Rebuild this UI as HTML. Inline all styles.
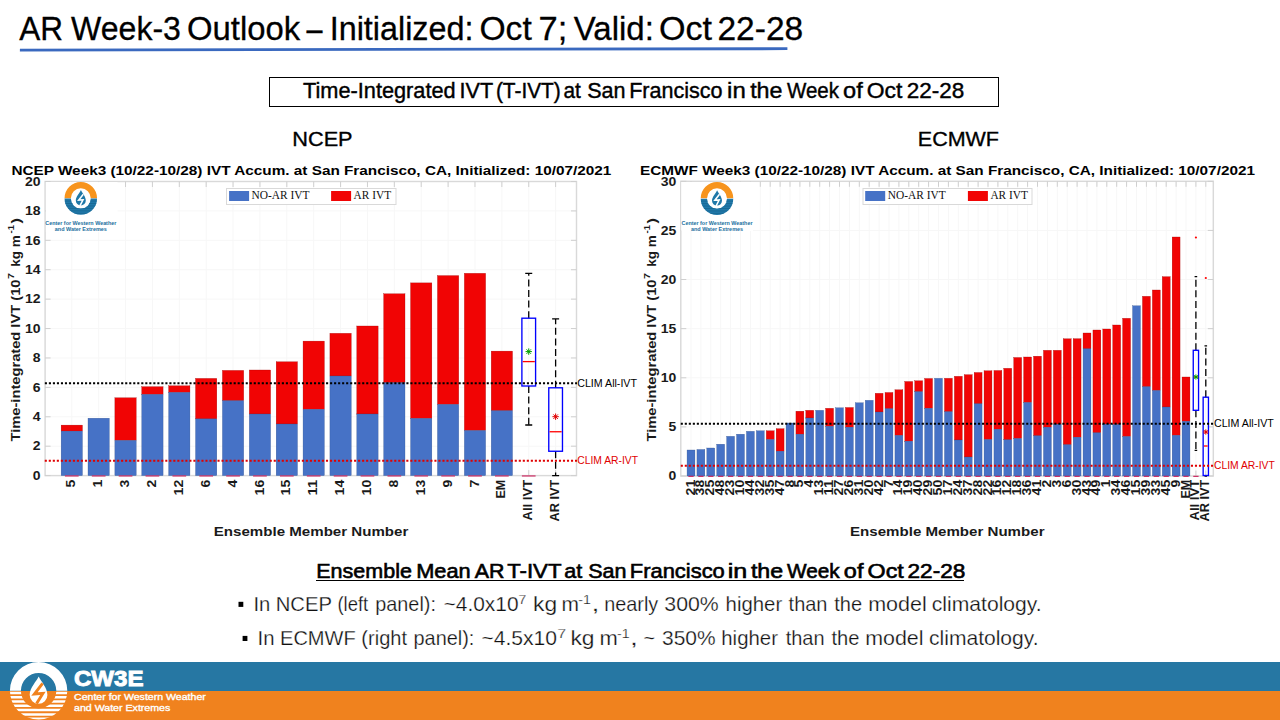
<!DOCTYPE html><html><head><meta charset="utf-8"><title>AR Week-3 Outlook</title><style>html,body{margin:0;padding:0;width:1280px;height:720px;overflow:hidden;background:#fff}svg{display:block}text{font-family:"Liberation Sans",sans-serif}</style></head><body>
<svg width="1280" height="720" viewBox="0 0 1280 720">
<rect width="1280" height="720" fill="#fff"/>
<text x="19.19" y="39.90" font-size="33.50" fill="#000" textLength="43.83" lengthAdjust="spacingAndGlyphs" style='font-family:"Liberation Sans",sans-serif;' stroke="#000" stroke-width="0.3">AR</text>
<text x="71.11" y="39.90" font-size="33.50" fill="#000" textLength="109.84" lengthAdjust="spacingAndGlyphs" style='font-family:"Liberation Sans",sans-serif;' stroke="#000" stroke-width="0.3">Week-3</text>
<text x="186.99" y="39.90" font-size="33.50" fill="#000" textLength="113.21" lengthAdjust="spacingAndGlyphs" style='font-family:"Liberation Sans",sans-serif;' stroke="#000" stroke-width="0.3">Outlook</text>
<text x="306.45" y="39.90" font-size="33.50" fill="#000" textLength="16.01" lengthAdjust="spacingAndGlyphs" style='font-family:"Liberation Sans",sans-serif;' stroke="#000" stroke-width="0.3">–</text>
<text x="329.66" y="39.90" font-size="33.50" fill="#000" textLength="143.84" lengthAdjust="spacingAndGlyphs" style='font-family:"Liberation Sans",sans-serif;' stroke="#000" stroke-width="0.3">Initialized:</text>
<text x="479.46" y="39.90" font-size="33.50" fill="#000" textLength="52.34" lengthAdjust="spacingAndGlyphs" style='font-family:"Liberation Sans",sans-serif;' stroke="#000" stroke-width="0.3">Oct</text>
<text x="538.58" y="39.90" font-size="33.50" fill="#000" textLength="28.77" lengthAdjust="spacingAndGlyphs" style='font-family:"Liberation Sans",sans-serif;' stroke="#000" stroke-width="0.3">7;</text>
<text x="573.76" y="39.90" font-size="33.50" fill="#000" textLength="80.12" lengthAdjust="spacingAndGlyphs" style='font-family:"Liberation Sans",sans-serif;' stroke="#000" stroke-width="0.3">Valid:</text>
<text x="659.03" y="39.90" font-size="33.50" fill="#000" textLength="53.07" lengthAdjust="spacingAndGlyphs" style='font-family:"Liberation Sans",sans-serif;' stroke="#000" stroke-width="0.3">Oct</text>
<text x="717.46" y="39.90" font-size="33.50" fill="#000" textLength="85.74" lengthAdjust="spacingAndGlyphs" style='font-family:"Liberation Sans",sans-serif;' stroke="#000" stroke-width="0.3">22-28</text>
<path d="M19.9 50.1L787.4 48.7" stroke="#3A69BF" stroke-width="2.8"/>
<rect x="269.5" y="77.5" width="729" height="29" fill="none" stroke="#000" stroke-width="1"/>
<text x="303.01" y="98.10" font-size="21.60" fill="#000" textLength="152.68" lengthAdjust="spacingAndGlyphs" style='font-family:"Liberation Sans",sans-serif;' stroke="#000" stroke-width="0.4">Time-Integrated</text>
<text x="459.61" y="98.10" font-size="21.60" fill="#000" textLength="33.59" lengthAdjust="spacingAndGlyphs" style='font-family:"Liberation Sans",sans-serif;' stroke="#000" stroke-width="0.4">IVT</text>
<text x="495.93" y="98.10" font-size="21.60" fill="#000" textLength="64.84" lengthAdjust="spacingAndGlyphs" style='font-family:"Liberation Sans",sans-serif;' stroke="#000" stroke-width="0.4">(T-IVT)</text>
<text x="563.42" y="98.10" font-size="21.60" fill="#000" textLength="17.34" lengthAdjust="spacingAndGlyphs" style='font-family:"Liberation Sans",sans-serif;' stroke="#000" stroke-width="0.4">at</text>
<text x="587.22" y="98.10" font-size="21.60" fill="#000" textLength="38.38" lengthAdjust="spacingAndGlyphs" style='font-family:"Liberation Sans",sans-serif;' stroke="#000" stroke-width="0.4">San</text>
<text x="629.13" y="98.10" font-size="21.60" fill="#000" textLength="93.47" lengthAdjust="spacingAndGlyphs" style='font-family:"Liberation Sans",sans-serif;' stroke="#000" stroke-width="0.4">Francisco</text>
<text x="727.10" y="98.10" font-size="21.60" fill="#000" textLength="18.66" lengthAdjust="spacingAndGlyphs" style='font-family:"Liberation Sans",sans-serif;' stroke="#000" stroke-width="0.4">in</text>
<text x="750.15" y="98.10" font-size="21.60" fill="#000" textLength="32.39" lengthAdjust="spacingAndGlyphs" style='font-family:"Liberation Sans",sans-serif;' stroke="#000" stroke-width="0.4">the</text>
<text x="786.91" y="98.10" font-size="21.60" fill="#000" textLength="52.06" lengthAdjust="spacingAndGlyphs" style='font-family:"Liberation Sans",sans-serif;' stroke="#000" stroke-width="0.4">Week</text>
<text x="843.11" y="98.10" font-size="21.60" fill="#000" textLength="19.66" lengthAdjust="spacingAndGlyphs" style='font-family:"Liberation Sans",sans-serif;' stroke="#000" stroke-width="0.4">of</text>
<text x="866.72" y="98.10" font-size="21.60" fill="#000" textLength="35.55" lengthAdjust="spacingAndGlyphs" style='font-family:"Liberation Sans",sans-serif;' stroke="#000" stroke-width="0.4">Oct</text>
<text x="906.77" y="98.10" font-size="21.60" fill="#000" textLength="57.61" lengthAdjust="spacingAndGlyphs" style='font-family:"Liberation Sans",sans-serif;' stroke="#000" stroke-width="0.4">22-28</text>
<text x="292.30" y="145.60" font-size="20.90" fill="#000" textLength="60.30" lengthAdjust="spacingAndGlyphs" style='font-family:"Liberation Sans",sans-serif;' stroke="#000" stroke-width="0.35">NCEP</text>
<text x="917.80" y="145.60" font-size="20.90" fill="#000" textLength="81.20" lengthAdjust="spacingAndGlyphs" style='font-family:"Liberation Sans",sans-serif;' stroke="#000" stroke-width="0.35">ECMWF</text>
<path d="M45.10 446.19H576.50M45.10 416.78H576.50M45.10 387.37H576.50M45.10 357.96H576.50M45.10 328.55H576.50M45.10 299.14H576.50M45.10 269.73H576.50M45.10 240.32H576.50M45.10 210.91H576.50M71.78 181.50V475.60M98.66 181.50V475.60M125.54 181.50V475.60M152.42 181.50V475.60M179.30 181.50V475.60M206.18 181.50V475.60M233.06 181.50V475.60M259.94 181.50V475.60M286.82 181.50V475.60M313.70 181.50V475.60M340.58 181.50V475.60M367.46 181.50V475.60M394.34 181.50V475.60M421.22 181.50V475.60M448.10 181.50V475.60M474.98 181.50V475.60M501.86 181.50V475.60M528.74 181.50V475.60M555.62 181.50V475.60" stroke="#F7F7F7" stroke-width="1" fill="none"/>
<rect x="45.10" y="181.50" width="531.40" height="294.10" fill="none" stroke="#D9D9D9" stroke-width="1.45"/>
<path d="M45.10 475.60h5.5M576.50 475.60h-5.5M45.10 446.19h5.5M576.50 446.19h-5.5M45.10 416.78h5.5M576.50 416.78h-5.5M45.10 387.37h5.5M576.50 387.37h-5.5M45.10 357.96h5.5M576.50 357.96h-5.5M45.10 328.55h5.5M576.50 328.55h-5.5M45.10 299.14h5.5M576.50 299.14h-5.5M45.10 269.73h5.5M576.50 269.73h-5.5M45.10 240.32h5.5M576.50 240.32h-5.5M45.10 210.91h5.5M576.50 210.91h-5.5M45.10 181.50h5.5M576.50 181.50h-5.5M71.78 475.60v-5.5M71.78 181.50v5.5M98.66 475.60v-5.5M98.66 181.50v5.5M125.54 475.60v-5.5M125.54 181.50v5.5M152.42 475.60v-5.5M152.42 181.50v5.5M179.30 475.60v-5.5M179.30 181.50v5.5M206.18 475.60v-5.5M206.18 181.50v5.5M233.06 475.60v-5.5M233.06 181.50v5.5M259.94 475.60v-5.5M259.94 181.50v5.5M286.82 475.60v-5.5M286.82 181.50v5.5M313.70 475.60v-5.5M313.70 181.50v5.5M340.58 475.60v-5.5M340.58 181.50v5.5M367.46 475.60v-5.5M367.46 181.50v5.5M394.34 475.60v-5.5M394.34 181.50v5.5M421.22 475.60v-5.5M421.22 181.50v5.5M448.10 475.60v-5.5M448.10 181.50v5.5M474.98 475.60v-5.5M474.98 181.50v5.5M501.86 475.60v-5.5M501.86 181.50v5.5M528.74 475.60v-5.5M528.74 181.50v5.5M555.62 475.60v-5.5M555.62 181.50v5.5" stroke="#CFCFCF" stroke-width="1" fill="none"/>
<rect x="45.9" y="182.1" width="71.6" height="49.900000000000006" fill="#fff"/>
<g>
<path d="M64.55 198.20A16.25 16.25 0 0 1 97.05 198.20H90.75A9.95 9.95 0 0 0 70.85 198.20Z" fill="#F7941D"/>
<path d="M64.55 198.60A16.25 16.25 0 0 0 97.05 198.60H90.75A9.95 9.95 0 0 1 70.85 198.60Z" fill="#2179AA"/>
<clipPath id="lc80"><path d="M64.55 198.60A16.25 16.25 0 0 0 97.05 198.60H90.75A9.95 9.95 0 0 1 70.85 198.60Z"/></clipPath>
<path d="M64.55 201.05H97.05M64.55 203.50H97.05M64.55 205.95H97.05M64.55 208.40H97.05M64.55 210.85H97.05M64.55 213.30H97.05" stroke="#176690" stroke-width="0.8" clip-path="url(#lc80)"/>
<path d="M80.90 190.10C82.40 193.70 85.80 196.60 85.80 200.50A5.0 5.0 0 0 1 75.80 200.50C75.80 196.60 79.60 193.70 80.90 190.10Z" fill="#1F78A8"/>
<path d="M83.30 194.20L78.70 200.10L83.00 199.80L79.90 205.90" stroke="#fff" stroke-width="1.55" fill="none" stroke-linejoin="miter"/>
</g>
<text x="80.80" y="225.20" font-size="6.00" fill="#22709E" font-weight="bold" text-anchor="middle" textLength="71.00" lengthAdjust="spacingAndGlyphs" style='font-family:"Liberation Sans",sans-serif;' >Center for Western Weather</text>
<text x="80.80" y="231.00" font-size="6.00" fill="#22709E" font-weight="bold" text-anchor="middle" textLength="52.00" lengthAdjust="spacingAndGlyphs" style='font-family:"Liberation Sans",sans-serif;' >and Water Extremes</text>
<rect x="226.50" y="188.50" width="169.50" height="16.00" fill="#fff" stroke="#D9D9D9" stroke-width="1"/>
<rect x="229.10" y="191.00" width="20" height="10" fill="#4672C6"/>
<rect x="331.10" y="191.00" width="20" height="10" fill="#F10404"/>
<text x="251.60" y="199.20" font-size="11.60" fill="#111" textLength="58.00" lengthAdjust="spacingAndGlyphs" style='font-family:"Liberation Serif",serif;' >NO-AR IVT</text>
<text x="353.60" y="199.20" font-size="11.60" fill="#111" textLength="37.50" lengthAdjust="spacingAndGlyphs" style='font-family:"Liberation Serif",serif;' >AR IVT</text>
<rect x="61.13" y="425.10" width="21.30" height="6.00" fill="#F10404" stroke="#A00000" stroke-width="0.3"/><rect x="61.13" y="431.10" width="21.30" height="44.50" fill="#4672C6" stroke="#2F4F8A" stroke-width="0.3"/><rect x="64.93" y="475.35" width="13.70" height="1.2" fill="#CC2A62"/><rect x="88.01" y="418.20" width="21.30" height="57.40" fill="#4672C6" stroke="#2F4F8A" stroke-width="0.3"/><rect x="91.81" y="475.35" width="13.70" height="1.2" fill="#CC2A62"/><rect x="114.89" y="397.80" width="21.30" height="42.60" fill="#F10404" stroke="#A00000" stroke-width="0.3"/><rect x="114.89" y="440.40" width="21.30" height="35.20" fill="#4672C6" stroke="#2F4F8A" stroke-width="0.3"/><rect x="118.69" y="475.35" width="13.70" height="1.2" fill="#CC2A62"/><rect x="141.77" y="386.70" width="21.30" height="7.70" fill="#F10404" stroke="#A00000" stroke-width="0.3"/><rect x="141.77" y="394.40" width="21.30" height="81.20" fill="#4672C6" stroke="#2F4F8A" stroke-width="0.3"/><rect x="145.57" y="475.35" width="13.70" height="1.2" fill="#CC2A62"/><rect x="168.65" y="385.80" width="21.30" height="6.60" fill="#F10404" stroke="#A00000" stroke-width="0.3"/><rect x="168.65" y="392.40" width="21.30" height="83.20" fill="#4672C6" stroke="#2F4F8A" stroke-width="0.3"/><rect x="172.45" y="475.35" width="13.70" height="1.2" fill="#CC2A62"/><rect x="195.53" y="378.40" width="21.30" height="40.50" fill="#F10404" stroke="#A00000" stroke-width="0.3"/><rect x="195.53" y="418.90" width="21.30" height="56.70" fill="#4672C6" stroke="#2F4F8A" stroke-width="0.3"/><rect x="199.33" y="475.35" width="13.70" height="1.2" fill="#CC2A62"/><rect x="222.41" y="370.40" width="21.30" height="30.30" fill="#F10404" stroke="#A00000" stroke-width="0.3"/><rect x="222.41" y="400.70" width="21.30" height="74.90" fill="#4672C6" stroke="#2F4F8A" stroke-width="0.3"/><rect x="226.21" y="475.35" width="13.70" height="1.2" fill="#CC2A62"/><rect x="249.29" y="370.00" width="21.30" height="44.00" fill="#F10404" stroke="#A00000" stroke-width="0.3"/><rect x="249.29" y="414.00" width="21.30" height="61.60" fill="#4672C6" stroke="#2F4F8A" stroke-width="0.3"/><rect x="253.09" y="475.35" width="13.70" height="1.2" fill="#CC2A62"/><rect x="276.17" y="361.80" width="21.30" height="62.20" fill="#F10404" stroke="#A00000" stroke-width="0.3"/><rect x="276.17" y="424.00" width="21.30" height="51.60" fill="#4672C6" stroke="#2F4F8A" stroke-width="0.3"/><rect x="279.97" y="475.35" width="13.70" height="1.2" fill="#CC2A62"/><rect x="303.05" y="341.10" width="21.30" height="68.20" fill="#F10404" stroke="#A00000" stroke-width="0.3"/><rect x="303.05" y="409.30" width="21.30" height="66.30" fill="#4672C6" stroke="#2F4F8A" stroke-width="0.3"/><rect x="306.85" y="475.35" width="13.70" height="1.2" fill="#CC2A62"/><rect x="329.93" y="333.30" width="21.30" height="42.70" fill="#F10404" stroke="#A00000" stroke-width="0.3"/><rect x="329.93" y="376.00" width="21.30" height="99.60" fill="#4672C6" stroke="#2F4F8A" stroke-width="0.3"/><rect x="333.73" y="475.35" width="13.70" height="1.2" fill="#CC2A62"/><rect x="356.81" y="326.00" width="21.30" height="88.00" fill="#F10404" stroke="#A00000" stroke-width="0.3"/><rect x="356.81" y="414.00" width="21.30" height="61.60" fill="#4672C6" stroke="#2F4F8A" stroke-width="0.3"/><rect x="360.61" y="475.35" width="13.70" height="1.2" fill="#CC2A62"/><rect x="383.69" y="293.80" width="21.30" height="88.90" fill="#F10404" stroke="#A00000" stroke-width="0.3"/><rect x="383.69" y="382.70" width="21.30" height="92.90" fill="#4672C6" stroke="#2F4F8A" stroke-width="0.3"/><rect x="387.49" y="475.35" width="13.70" height="1.2" fill="#CC2A62"/><rect x="410.57" y="282.90" width="21.30" height="135.50" fill="#F10404" stroke="#A00000" stroke-width="0.3"/><rect x="410.57" y="418.40" width="21.30" height="57.20" fill="#4672C6" stroke="#2F4F8A" stroke-width="0.3"/><rect x="414.37" y="475.35" width="13.70" height="1.2" fill="#CC2A62"/><rect x="437.45" y="275.60" width="21.30" height="128.80" fill="#F10404" stroke="#A00000" stroke-width="0.3"/><rect x="437.45" y="404.40" width="21.30" height="71.20" fill="#4672C6" stroke="#2F4F8A" stroke-width="0.3"/><rect x="441.25" y="475.35" width="13.70" height="1.2" fill="#CC2A62"/><rect x="464.33" y="273.30" width="21.30" height="157.20" fill="#F10404" stroke="#A00000" stroke-width="0.3"/><rect x="464.33" y="430.50" width="21.30" height="45.10" fill="#4672C6" stroke="#2F4F8A" stroke-width="0.3"/><rect x="468.13" y="475.35" width="13.70" height="1.2" fill="#CC2A62"/><rect x="491.21" y="351.10" width="21.30" height="59.60" fill="#F10404" stroke="#A00000" stroke-width="0.3"/><rect x="491.21" y="410.70" width="21.30" height="64.90" fill="#4672C6" stroke="#2F4F8A" stroke-width="0.3"/><rect x="495.01" y="475.35" width="13.70" height="1.2" fill="#CC2A62"/><rect x="521.89" y="475.35" width="13.70" height="1.2" fill="#CC2A62"/>
<path d="M528.74 318.20V273.30M528.74 386.00V425.00" stroke="#000" stroke-width="1.3" stroke-dasharray="7 3.6" fill="none"/>
<path d="M525.24 273.30H532.24M525.24 425.00H532.24" stroke="#000" stroke-width="1.3" fill="none"/>
<rect x="521.89" y="318.20" width="13.70" height="67.80" fill="none" stroke="#0000FF" stroke-width="1.35"/>
<path d="M522.69 361.60H534.79" stroke="#FF0000" stroke-width="1.3"/>
<path d="M525.54 351.60H531.94M528.74 348.40V354.80M526.50 349.36L530.98 353.84M526.50 353.84L530.98 349.36" stroke="#00A000" stroke-width="1"/>
<path d="M555.62 387.80V318.90M555.62 451.25V475.60" stroke="#000" stroke-width="1.3" stroke-dasharray="7 3.6" fill="none"/>
<path d="M552.12 318.90H559.12M552.12 475.60H559.12" stroke="#000" stroke-width="1.3" fill="none"/>
<rect x="548.77" y="387.80" width="13.70" height="63.45" fill="none" stroke="#0000FF" stroke-width="1.35"/>
<path d="M549.57 431.75H561.67" stroke="#FF0000" stroke-width="1.3"/>
<path d="M552.42 416.70H558.82M555.62 413.50V419.90M553.38 414.46L557.86 418.94M553.38 418.94L557.86 414.46" stroke="#E00000" stroke-width="1"/>
<path d="M44.85 383.30H577.00" stroke="#000" stroke-width="2.1" stroke-dasharray="2.1 1.917"/>
<path d="M44.75 460.70H577.00" stroke="#E00000" stroke-width="2.1" stroke-dasharray="2.1 1.917"/>
<text x="577.20" y="386.90" font-size="10.70" fill="#000" textLength="59.81" lengthAdjust="spacingAndGlyphs" style='font-family:"Liberation Sans",sans-serif;' >CLIM All-IVT</text>
<text x="577.20" y="464.30" font-size="10.70" fill="#E00000" textLength="60.80" lengthAdjust="spacingAndGlyphs" style='font-family:"Liberation Sans",sans-serif;' >CLIM AR-IVT</text>
<text x="40.60" y="479.88" font-size="11.87" fill="#1a1a1a" font-weight="bold" text-anchor="end" textLength="7.79" lengthAdjust="spacingAndGlyphs" style='font-family:"Liberation Sans",sans-serif;' >0</text>
<text x="40.60" y="450.47" font-size="11.87" fill="#1a1a1a" font-weight="bold" text-anchor="end" textLength="7.79" lengthAdjust="spacingAndGlyphs" style='font-family:"Liberation Sans",sans-serif;' >2</text>
<text x="40.60" y="421.06" font-size="11.87" fill="#1a1a1a" font-weight="bold" text-anchor="end" textLength="7.79" lengthAdjust="spacingAndGlyphs" style='font-family:"Liberation Sans",sans-serif;' >4</text>
<text x="40.60" y="391.65" font-size="11.87" fill="#1a1a1a" font-weight="bold" text-anchor="end" textLength="7.79" lengthAdjust="spacingAndGlyphs" style='font-family:"Liberation Sans",sans-serif;' >6</text>
<text x="40.60" y="362.24" font-size="11.87" fill="#1a1a1a" font-weight="bold" text-anchor="end" textLength="7.79" lengthAdjust="spacingAndGlyphs" style='font-family:"Liberation Sans",sans-serif;' >8</text>
<text x="40.60" y="332.83" font-size="11.87" fill="#1a1a1a" font-weight="bold" text-anchor="end" textLength="15.59" lengthAdjust="spacingAndGlyphs" style='font-family:"Liberation Sans",sans-serif;' >10</text>
<text x="40.60" y="303.42" font-size="11.87" fill="#1a1a1a" font-weight="bold" text-anchor="end" textLength="15.59" lengthAdjust="spacingAndGlyphs" style='font-family:"Liberation Sans",sans-serif;' >12</text>
<text x="40.60" y="274.01" font-size="11.87" fill="#1a1a1a" font-weight="bold" text-anchor="end" textLength="15.59" lengthAdjust="spacingAndGlyphs" style='font-family:"Liberation Sans",sans-serif;' >14</text>
<text x="40.60" y="244.60" font-size="11.87" fill="#1a1a1a" font-weight="bold" text-anchor="end" textLength="15.59" lengthAdjust="spacingAndGlyphs" style='font-family:"Liberation Sans",sans-serif;' >16</text>
<text x="40.60" y="215.19" font-size="11.87" fill="#1a1a1a" font-weight="bold" text-anchor="end" textLength="15.59" lengthAdjust="spacingAndGlyphs" style='font-family:"Liberation Sans",sans-serif;' >18</text>
<text x="40.60" y="185.78" font-size="11.87" fill="#1a1a1a" font-weight="bold" text-anchor="end" textLength="15.59" lengthAdjust="spacingAndGlyphs" style='font-family:"Liberation Sans",sans-serif;' >20</text>
<text transform="translate(75.36 479.80) rotate(-90)" font-size="11.87" font-weight="bold" text-anchor="end" textLength="7.79" lengthAdjust="spacingAndGlyphs" fill="#1a1a1a" style='font-family:"Liberation Sans",sans-serif'>5</text>
<text transform="translate(102.24 479.80) rotate(-90)" font-size="11.87" font-weight="bold" text-anchor="end" textLength="7.79" lengthAdjust="spacingAndGlyphs" fill="#1a1a1a" style='font-family:"Liberation Sans",sans-serif'>1</text>
<text transform="translate(129.12 479.80) rotate(-90)" font-size="11.87" font-weight="bold" text-anchor="end" textLength="7.79" lengthAdjust="spacingAndGlyphs" fill="#1a1a1a" style='font-family:"Liberation Sans",sans-serif'>3</text>
<text transform="translate(156.00 479.80) rotate(-90)" font-size="11.87" font-weight="bold" text-anchor="end" textLength="7.79" lengthAdjust="spacingAndGlyphs" fill="#1a1a1a" style='font-family:"Liberation Sans",sans-serif'>2</text>
<text transform="translate(182.88 479.80) rotate(-90)" font-size="11.87" font-weight="bold" text-anchor="end" textLength="15.59" lengthAdjust="spacingAndGlyphs" fill="#1a1a1a" style='font-family:"Liberation Sans",sans-serif'>12</text>
<text transform="translate(209.76 479.80) rotate(-90)" font-size="11.87" font-weight="bold" text-anchor="end" textLength="7.79" lengthAdjust="spacingAndGlyphs" fill="#1a1a1a" style='font-family:"Liberation Sans",sans-serif'>6</text>
<text transform="translate(236.64 479.80) rotate(-90)" font-size="11.87" font-weight="bold" text-anchor="end" textLength="7.79" lengthAdjust="spacingAndGlyphs" fill="#1a1a1a" style='font-family:"Liberation Sans",sans-serif'>4</text>
<text transform="translate(263.52 479.80) rotate(-90)" font-size="11.87" font-weight="bold" text-anchor="end" textLength="15.59" lengthAdjust="spacingAndGlyphs" fill="#1a1a1a" style='font-family:"Liberation Sans",sans-serif'>16</text>
<text transform="translate(290.40 479.80) rotate(-90)" font-size="11.87" font-weight="bold" text-anchor="end" textLength="15.59" lengthAdjust="spacingAndGlyphs" fill="#1a1a1a" style='font-family:"Liberation Sans",sans-serif'>15</text>
<text transform="translate(317.28 479.80) rotate(-90)" font-size="11.87" font-weight="bold" text-anchor="end" textLength="15.59" lengthAdjust="spacingAndGlyphs" fill="#1a1a1a" style='font-family:"Liberation Sans",sans-serif'>11</text>
<text transform="translate(344.16 479.80) rotate(-90)" font-size="11.87" font-weight="bold" text-anchor="end" textLength="15.59" lengthAdjust="spacingAndGlyphs" fill="#1a1a1a" style='font-family:"Liberation Sans",sans-serif'>14</text>
<text transform="translate(371.04 479.80) rotate(-90)" font-size="11.87" font-weight="bold" text-anchor="end" textLength="15.59" lengthAdjust="spacingAndGlyphs" fill="#1a1a1a" style='font-family:"Liberation Sans",sans-serif'>10</text>
<text transform="translate(397.92 479.80) rotate(-90)" font-size="11.87" font-weight="bold" text-anchor="end" textLength="7.79" lengthAdjust="spacingAndGlyphs" fill="#1a1a1a" style='font-family:"Liberation Sans",sans-serif'>8</text>
<text transform="translate(424.80 479.80) rotate(-90)" font-size="11.87" font-weight="bold" text-anchor="end" textLength="15.59" lengthAdjust="spacingAndGlyphs" fill="#1a1a1a" style='font-family:"Liberation Sans",sans-serif'>13</text>
<text transform="translate(451.68 479.80) rotate(-90)" font-size="11.87" font-weight="bold" text-anchor="end" textLength="7.79" lengthAdjust="spacingAndGlyphs" fill="#1a1a1a" style='font-family:"Liberation Sans",sans-serif'>9</text>
<text transform="translate(478.56 479.80) rotate(-90)" font-size="11.87" font-weight="bold" text-anchor="end" textLength="7.79" lengthAdjust="spacingAndGlyphs" fill="#1a1a1a" style='font-family:"Liberation Sans",sans-serif'>7</text>
<text transform="translate(505.44 479.80) rotate(-90)" font-size="11.87" font-weight="bold" text-anchor="end" textLength="18.80" lengthAdjust="spacingAndGlyphs" fill="#1a1a1a" style='font-family:"Liberation Sans",sans-serif'>EM</text>
<text transform="translate(532.32 479.80) rotate(-90)" font-size="11.87" font-weight="bold" text-anchor="end" textLength="40.72" lengthAdjust="spacingAndGlyphs" fill="#1a1a1a" style='font-family:"Liberation Sans",sans-serif'>All IVT</text>
<text transform="translate(559.20 479.80) rotate(-90)" font-size="11.87" font-weight="bold" text-anchor="end" textLength="41.67" lengthAdjust="spacingAndGlyphs" fill="#1a1a1a" style='font-family:"Liberation Sans",sans-serif'>AR IVT</text>
<text x="11.40" y="174.90" font-size="13.46" fill="#000" font-weight="bold" textLength="599.97" lengthAdjust="spacingAndGlyphs" style='font-family:"Liberation Sans",sans-serif;' >NCEP Week3 (10/22-10/28) IVT Accum. at San Francisco, CA, Initialized: 10/07/2021</text>
<text x="213.80" y="536.00" font-size="13.46" fill="#1a1a1a" font-weight="bold" textLength="194.51" lengthAdjust="spacingAndGlyphs" style='font-family:"Liberation Sans",sans-serif;' >Ensemble Member Number</text>
<text transform="translate(20.10 441.50) rotate(-90)" font-size="12.72" font-weight="bold" fill="#1a1a1a" textLength="162.00" lengthAdjust="spacingAndGlyphs" style='font-family:"Liberation Sans",sans-serif'>Time-integrated IVT (10</text>
<text transform="translate(13.90 278.90) rotate(-90)" font-size="9.54" font-weight="bold" fill="#1a1a1a" textLength="5.90" lengthAdjust="spacingAndGlyphs" style='font-family:"Liberation Sans",sans-serif'>7</text>
<text transform="translate(20.10 266.70) rotate(-90)" font-size="12.72" font-weight="bold" fill="#1a1a1a" textLength="31.60" lengthAdjust="spacingAndGlyphs" style='font-family:"Liberation Sans",sans-serif'>kg m</text>
<text transform="translate(14.20 233.50) rotate(-90)" font-size="9.54" font-weight="bold" fill="#1a1a1a" textLength="8.60" lengthAdjust="spacingAndGlyphs" style='font-family:"Liberation Sans",sans-serif'>-1</text>
<text transform="translate(20.10 223.50) rotate(-90)" font-size="12.72" font-weight="bold" fill="#1a1a1a" textLength="5.50" lengthAdjust="spacingAndGlyphs" style='font-family:"Liberation Sans",sans-serif'>)</text>
<path d="M680.80 426.88H1213.30M680.80 377.77H1213.30M680.80 328.65H1213.30M680.80 279.53H1213.30M680.80 230.42H1213.30M691.00 181.30V476.00M700.90 181.30V476.00M710.80 181.30V476.00M720.70 181.30V476.00M730.60 181.30V476.00M740.50 181.30V476.00M750.40 181.30V476.00M760.30 181.30V476.00M770.20 181.30V476.00M780.10 181.30V476.00M790.00 181.30V476.00M799.90 181.30V476.00M809.80 181.30V476.00M819.70 181.30V476.00M829.60 181.30V476.00M839.50 181.30V476.00M849.40 181.30V476.00M859.30 181.30V476.00M869.20 181.30V476.00M879.10 181.30V476.00M889.00 181.30V476.00M898.90 181.30V476.00M908.80 181.30V476.00M918.70 181.30V476.00M928.60 181.30V476.00M938.50 181.30V476.00M948.40 181.30V476.00M958.30 181.30V476.00M968.20 181.30V476.00M978.10 181.30V476.00M988.00 181.30V476.00M997.90 181.30V476.00M1007.80 181.30V476.00M1017.70 181.30V476.00M1027.60 181.30V476.00M1037.50 181.30V476.00M1047.40 181.30V476.00M1057.30 181.30V476.00M1067.20 181.30V476.00M1077.10 181.30V476.00M1087.00 181.30V476.00M1096.90 181.30V476.00M1106.80 181.30V476.00M1116.70 181.30V476.00M1126.60 181.30V476.00M1136.50 181.30V476.00M1146.40 181.30V476.00M1156.30 181.30V476.00M1166.20 181.30V476.00M1176.10 181.30V476.00M1186.00 181.30V476.00M1195.90 181.30V476.00M1205.80 181.30V476.00" stroke="#F7F7F7" stroke-width="1" fill="none"/>
<rect x="680.80" y="181.30" width="532.50" height="294.70" fill="none" stroke="#D9D9D9" stroke-width="1.45"/>
<path d="M680.80 476.00h5.5M1213.30 476.00h-5.5M680.80 426.88h5.5M1213.30 426.88h-5.5M680.80 377.77h5.5M1213.30 377.77h-5.5M680.80 328.65h5.5M1213.30 328.65h-5.5M680.80 279.53h5.5M1213.30 279.53h-5.5M680.80 230.42h5.5M1213.30 230.42h-5.5M680.80 181.30h5.5M1213.30 181.30h-5.5M691.00 476.00v-5.5M691.00 181.30v5.5M700.90 476.00v-5.5M700.90 181.30v5.5M710.80 476.00v-5.5M710.80 181.30v5.5M720.70 476.00v-5.5M720.70 181.30v5.5M730.60 476.00v-5.5M730.60 181.30v5.5M740.50 476.00v-5.5M740.50 181.30v5.5M750.40 476.00v-5.5M750.40 181.30v5.5M760.30 476.00v-5.5M760.30 181.30v5.5M770.20 476.00v-5.5M770.20 181.30v5.5M780.10 476.00v-5.5M780.10 181.30v5.5M790.00 476.00v-5.5M790.00 181.30v5.5M799.90 476.00v-5.5M799.90 181.30v5.5M809.80 476.00v-5.5M809.80 181.30v5.5M819.70 476.00v-5.5M819.70 181.30v5.5M829.60 476.00v-5.5M829.60 181.30v5.5M839.50 476.00v-5.5M839.50 181.30v5.5M849.40 476.00v-5.5M849.40 181.30v5.5M859.30 476.00v-5.5M859.30 181.30v5.5M869.20 476.00v-5.5M869.20 181.30v5.5M879.10 476.00v-5.5M879.10 181.30v5.5M889.00 476.00v-5.5M889.00 181.30v5.5M898.90 476.00v-5.5M898.90 181.30v5.5M908.80 476.00v-5.5M908.80 181.30v5.5M918.70 476.00v-5.5M918.70 181.30v5.5M928.60 476.00v-5.5M928.60 181.30v5.5M938.50 476.00v-5.5M938.50 181.30v5.5M948.40 476.00v-5.5M948.40 181.30v5.5M958.30 476.00v-5.5M958.30 181.30v5.5M968.20 476.00v-5.5M968.20 181.30v5.5M978.10 476.00v-5.5M978.10 181.30v5.5M988.00 476.00v-5.5M988.00 181.30v5.5M997.90 476.00v-5.5M997.90 181.30v5.5M1007.80 476.00v-5.5M1007.80 181.30v5.5M1017.70 476.00v-5.5M1017.70 181.30v5.5M1027.60 476.00v-5.5M1027.60 181.30v5.5M1037.50 476.00v-5.5M1037.50 181.30v5.5M1047.40 476.00v-5.5M1047.40 181.30v5.5M1057.30 476.00v-5.5M1057.30 181.30v5.5M1067.20 476.00v-5.5M1067.20 181.30v5.5M1077.10 476.00v-5.5M1077.10 181.30v5.5M1087.00 476.00v-5.5M1087.00 181.30v5.5M1096.90 476.00v-5.5M1096.90 181.30v5.5M1106.80 476.00v-5.5M1106.80 181.30v5.5M1116.70 476.00v-5.5M1116.70 181.30v5.5M1126.60 476.00v-5.5M1126.60 181.30v5.5M1136.50 476.00v-5.5M1136.50 181.30v5.5M1146.40 476.00v-5.5M1146.40 181.30v5.5M1156.30 476.00v-5.5M1156.30 181.30v5.5M1166.20 476.00v-5.5M1166.20 181.30v5.5M1176.10 476.00v-5.5M1176.10 181.30v5.5M1186.00 476.00v-5.5M1186.00 181.30v5.5M1195.90 476.00v-5.5M1195.90 181.30v5.5M1205.80 476.00v-5.5M1205.80 181.30v5.5" stroke="#CFCFCF" stroke-width="1" fill="none"/>
<rect x="681.3" y="182" width="71.70000000000005" height="49" fill="#fff"/>
<g>
<path d="M700.75 198.30A16.25 16.25 0 0 1 733.25 198.30H726.95A9.95 9.95 0 0 0 707.05 198.30Z" fill="#F7941D"/>
<path d="M700.75 198.70A16.25 16.25 0 0 0 733.25 198.70H726.95A9.95 9.95 0 0 1 707.05 198.70Z" fill="#2179AA"/>
<clipPath id="lc717"><path d="M700.75 198.70A16.25 16.25 0 0 0 733.25 198.70H726.95A9.95 9.95 0 0 1 707.05 198.70Z"/></clipPath>
<path d="M700.75 201.15H733.25M700.75 203.60H733.25M700.75 206.05H733.25M700.75 208.50H733.25M700.75 210.95H733.25M700.75 213.40H733.25" stroke="#176690" stroke-width="0.8" clip-path="url(#lc717)"/>
<path d="M717.10 190.20C718.60 193.80 722.00 196.70 722.00 200.60A5.0 5.0 0 0 1 712.00 200.60C712.00 196.70 715.80 193.80 717.10 190.20Z" fill="#1F78A8"/>
<path d="M719.50 194.30L714.90 200.20L719.20 199.90L716.10 206.00" stroke="#fff" stroke-width="1.55" fill="none" stroke-linejoin="miter"/>
</g>
<text x="717.00" y="225.30" font-size="6.00" fill="#22709E" font-weight="bold" text-anchor="middle" textLength="71.00" lengthAdjust="spacingAndGlyphs" style='font-family:"Liberation Sans",sans-serif;' >Center for Western Weather</text>
<text x="717.00" y="231.10" font-size="6.00" fill="#22709E" font-weight="bold" text-anchor="middle" textLength="52.00" lengthAdjust="spacingAndGlyphs" style='font-family:"Liberation Sans",sans-serif;' >and Water Extremes</text>
<rect x="863.00" y="188.50" width="169.00" height="16.00" fill="#fff" stroke="#D9D9D9" stroke-width="1"/>
<rect x="865.20" y="191.00" width="20" height="10" fill="#4672C6"/>
<rect x="967.90" y="191.00" width="20" height="10" fill="#F10404"/>
<text x="887.70" y="199.20" font-size="11.60" fill="#111" textLength="58.00" lengthAdjust="spacingAndGlyphs" style='font-family:"Liberation Serif",serif;' >NO-AR IVT</text>
<text x="990.40" y="199.20" font-size="11.60" fill="#111" textLength="37.50" lengthAdjust="spacingAndGlyphs" style='font-family:"Liberation Serif",serif;' >AR IVT</text>
<rect x="687.05" y="450.00" width="7.90" height="26.00" fill="#4672C6" stroke="#2F4F8A" stroke-width="0.3"/><rect x="688.35" y="475.75" width="5.30" height="1.2" fill="#CC2A62"/><rect x="696.95" y="449.50" width="7.90" height="26.50" fill="#4672C6" stroke="#2F4F8A" stroke-width="0.3"/><rect x="698.25" y="475.75" width="5.30" height="1.2" fill="#CC2A62"/><rect x="706.85" y="448.00" width="7.90" height="28.00" fill="#4672C6" stroke="#2F4F8A" stroke-width="0.3"/><rect x="708.15" y="475.75" width="5.30" height="1.2" fill="#CC2A62"/><rect x="716.75" y="444.20" width="7.90" height="31.80" fill="#4672C6" stroke="#2F4F8A" stroke-width="0.3"/><rect x="718.05" y="475.75" width="5.30" height="1.2" fill="#CC2A62"/><rect x="726.65" y="436.30" width="7.90" height="39.70" fill="#4672C6" stroke="#2F4F8A" stroke-width="0.3"/><rect x="727.95" y="475.75" width="5.30" height="1.2" fill="#CC2A62"/><rect x="736.55" y="434.20" width="7.90" height="41.80" fill="#4672C6" stroke="#2F4F8A" stroke-width="0.3"/><rect x="737.85" y="475.75" width="5.30" height="1.2" fill="#CC2A62"/><rect x="746.45" y="431.30" width="7.90" height="44.70" fill="#4672C6" stroke="#2F4F8A" stroke-width="0.3"/><rect x="747.75" y="475.75" width="5.30" height="1.2" fill="#CC2A62"/><rect x="756.35" y="430.80" width="7.90" height="45.20" fill="#4672C6" stroke="#2F4F8A" stroke-width="0.3"/><rect x="757.65" y="475.75" width="5.30" height="1.2" fill="#CC2A62"/><rect x="766.25" y="430.80" width="7.90" height="8.70" fill="#F10404" stroke="#A00000" stroke-width="0.3"/><rect x="766.25" y="439.50" width="7.90" height="36.50" fill="#4672C6" stroke="#2F4F8A" stroke-width="0.3"/><rect x="767.55" y="475.75" width="5.30" height="1.2" fill="#CC2A62"/><rect x="776.15" y="428.70" width="7.90" height="22.50" fill="#F10404" stroke="#A00000" stroke-width="0.3"/><rect x="776.15" y="451.20" width="7.90" height="24.80" fill="#4672C6" stroke="#2F4F8A" stroke-width="0.3"/><rect x="777.45" y="475.75" width="5.30" height="1.2" fill="#CC2A62"/><rect x="786.05" y="423.00" width="7.90" height="53.00" fill="#4672C6" stroke="#2F4F8A" stroke-width="0.3"/><rect x="787.35" y="475.75" width="5.30" height="1.2" fill="#CC2A62"/><rect x="795.95" y="411.20" width="7.90" height="23.00" fill="#F10404" stroke="#A00000" stroke-width="0.3"/><rect x="795.95" y="434.20" width="7.90" height="41.80" fill="#4672C6" stroke="#2F4F8A" stroke-width="0.3"/><rect x="797.25" y="475.75" width="5.30" height="1.2" fill="#CC2A62"/><rect x="805.85" y="410.30" width="7.90" height="7.70" fill="#F10404" stroke="#A00000" stroke-width="0.3"/><rect x="805.85" y="418.00" width="7.90" height="58.00" fill="#4672C6" stroke="#2F4F8A" stroke-width="0.3"/><rect x="807.15" y="475.75" width="5.30" height="1.2" fill="#CC2A62"/><rect x="815.75" y="410.30" width="7.90" height="65.70" fill="#4672C6" stroke="#2F4F8A" stroke-width="0.3"/><rect x="817.05" y="475.75" width="5.30" height="1.2" fill="#CC2A62"/><rect x="825.65" y="408.30" width="7.90" height="18.00" fill="#F10404" stroke="#A00000" stroke-width="0.3"/><rect x="825.65" y="426.30" width="7.90" height="49.70" fill="#4672C6" stroke="#2F4F8A" stroke-width="0.3"/><rect x="826.95" y="475.75" width="5.30" height="1.2" fill="#CC2A62"/><rect x="835.55" y="407.80" width="7.90" height="68.20" fill="#4672C6" stroke="#2F4F8A" stroke-width="0.3"/><rect x="836.85" y="475.75" width="5.30" height="1.2" fill="#CC2A62"/><rect x="845.45" y="407.50" width="7.90" height="19.70" fill="#F10404" stroke="#A00000" stroke-width="0.3"/><rect x="845.45" y="427.20" width="7.90" height="48.80" fill="#4672C6" stroke="#2F4F8A" stroke-width="0.3"/><rect x="846.75" y="475.75" width="5.30" height="1.2" fill="#CC2A62"/><rect x="855.35" y="402.80" width="7.90" height="73.20" fill="#4672C6" stroke="#2F4F8A" stroke-width="0.3"/><rect x="856.65" y="475.75" width="5.30" height="1.2" fill="#CC2A62"/><rect x="865.25" y="400.30" width="7.90" height="75.70" fill="#4672C6" stroke="#2F4F8A" stroke-width="0.3"/><rect x="866.55" y="475.75" width="5.30" height="1.2" fill="#CC2A62"/><rect x="875.15" y="393.30" width="7.90" height="18.70" fill="#F10404" stroke="#A00000" stroke-width="0.3"/><rect x="875.15" y="412.00" width="7.90" height="64.00" fill="#4672C6" stroke="#2F4F8A" stroke-width="0.3"/><rect x="876.45" y="475.75" width="5.30" height="1.2" fill="#CC2A62"/><rect x="885.05" y="392.50" width="7.90" height="16.20" fill="#F10404" stroke="#A00000" stroke-width="0.3"/><rect x="885.05" y="408.70" width="7.90" height="67.30" fill="#4672C6" stroke="#2F4F8A" stroke-width="0.3"/><rect x="886.35" y="475.75" width="5.30" height="1.2" fill="#CC2A62"/><rect x="894.95" y="389.80" width="7.90" height="45.60" fill="#F10404" stroke="#A00000" stroke-width="0.3"/><rect x="894.95" y="435.40" width="7.90" height="40.60" fill="#4672C6" stroke="#2F4F8A" stroke-width="0.3"/><rect x="896.25" y="475.75" width="5.30" height="1.2" fill="#CC2A62"/><rect x="904.85" y="381.50" width="7.90" height="59.70" fill="#F10404" stroke="#A00000" stroke-width="0.3"/><rect x="904.85" y="441.20" width="7.90" height="34.80" fill="#4672C6" stroke="#2F4F8A" stroke-width="0.3"/><rect x="906.15" y="475.75" width="5.30" height="1.2" fill="#CC2A62"/><rect x="914.75" y="380.80" width="7.90" height="10.90" fill="#F10404" stroke="#A00000" stroke-width="0.3"/><rect x="914.75" y="391.70" width="7.90" height="84.30" fill="#4672C6" stroke="#2F4F8A" stroke-width="0.3"/><rect x="916.05" y="475.75" width="5.30" height="1.2" fill="#CC2A62"/><rect x="924.65" y="378.50" width="7.90" height="29.80" fill="#F10404" stroke="#A00000" stroke-width="0.3"/><rect x="924.65" y="408.30" width="7.90" height="67.70" fill="#4672C6" stroke="#2F4F8A" stroke-width="0.3"/><rect x="925.95" y="475.75" width="5.30" height="1.2" fill="#CC2A62"/><rect x="934.55" y="378.30" width="7.90" height="97.70" fill="#4672C6" stroke="#2F4F8A" stroke-width="0.3"/><rect x="935.85" y="475.75" width="5.30" height="1.2" fill="#CC2A62"/><rect x="944.45" y="378.30" width="7.90" height="33.40" fill="#F10404" stroke="#A00000" stroke-width="0.3"/><rect x="944.45" y="411.70" width="7.90" height="64.30" fill="#4672C6" stroke="#2F4F8A" stroke-width="0.3"/><rect x="945.75" y="475.75" width="5.30" height="1.2" fill="#CC2A62"/><rect x="954.35" y="376.30" width="7.90" height="63.70" fill="#F10404" stroke="#A00000" stroke-width="0.3"/><rect x="954.35" y="440.00" width="7.90" height="36.00" fill="#4672C6" stroke="#2F4F8A" stroke-width="0.3"/><rect x="955.65" y="475.75" width="5.30" height="1.2" fill="#CC2A62"/><rect x="964.25" y="374.70" width="7.90" height="82.30" fill="#F10404" stroke="#A00000" stroke-width="0.3"/><rect x="964.25" y="457.00" width="7.90" height="19.00" fill="#4672C6" stroke="#2F4F8A" stroke-width="0.3"/><rect x="965.55" y="475.75" width="5.30" height="1.2" fill="#CC2A62"/><rect x="974.15" y="372.50" width="7.90" height="31.30" fill="#F10404" stroke="#A00000" stroke-width="0.3"/><rect x="974.15" y="403.80" width="7.90" height="72.20" fill="#4672C6" stroke="#2F4F8A" stroke-width="0.3"/><rect x="975.45" y="475.75" width="5.30" height="1.2" fill="#CC2A62"/><rect x="984.05" y="370.80" width="7.90" height="68.70" fill="#F10404" stroke="#A00000" stroke-width="0.3"/><rect x="984.05" y="439.50" width="7.90" height="36.50" fill="#4672C6" stroke="#2F4F8A" stroke-width="0.3"/><rect x="985.35" y="475.75" width="5.30" height="1.2" fill="#CC2A62"/><rect x="993.95" y="370.50" width="7.90" height="58.70" fill="#F10404" stroke="#A00000" stroke-width="0.3"/><rect x="993.95" y="429.20" width="7.90" height="46.80" fill="#4672C6" stroke="#2F4F8A" stroke-width="0.3"/><rect x="995.25" y="475.75" width="5.30" height="1.2" fill="#CC2A62"/><rect x="1003.85" y="368.30" width="7.90" height="71.50" fill="#F10404" stroke="#A00000" stroke-width="0.3"/><rect x="1003.85" y="439.80" width="7.90" height="36.20" fill="#4672C6" stroke="#2F4F8A" stroke-width="0.3"/><rect x="1005.15" y="475.75" width="5.30" height="1.2" fill="#CC2A62"/><rect x="1013.75" y="357.50" width="7.90" height="81.00" fill="#F10404" stroke="#A00000" stroke-width="0.3"/><rect x="1013.75" y="438.50" width="7.90" height="37.50" fill="#4672C6" stroke="#2F4F8A" stroke-width="0.3"/><rect x="1015.05" y="475.75" width="5.30" height="1.2" fill="#CC2A62"/><rect x="1023.65" y="357.00" width="7.90" height="45.50" fill="#F10404" stroke="#A00000" stroke-width="0.3"/><rect x="1023.65" y="402.50" width="7.90" height="73.50" fill="#4672C6" stroke="#2F4F8A" stroke-width="0.3"/><rect x="1024.95" y="475.75" width="5.30" height="1.2" fill="#CC2A62"/><rect x="1033.55" y="356.20" width="7.90" height="79.60" fill="#F10404" stroke="#A00000" stroke-width="0.3"/><rect x="1033.55" y="435.80" width="7.90" height="40.20" fill="#4672C6" stroke="#2F4F8A" stroke-width="0.3"/><rect x="1034.85" y="475.75" width="5.30" height="1.2" fill="#CC2A62"/><rect x="1043.45" y="350.30" width="7.90" height="76.90" fill="#F10404" stroke="#A00000" stroke-width="0.3"/><rect x="1043.45" y="427.20" width="7.90" height="48.80" fill="#4672C6" stroke="#2F4F8A" stroke-width="0.3"/><rect x="1044.75" y="475.75" width="5.30" height="1.2" fill="#CC2A62"/><rect x="1053.35" y="350.30" width="7.90" height="73.90" fill="#F10404" stroke="#A00000" stroke-width="0.3"/><rect x="1053.35" y="424.20" width="7.90" height="51.80" fill="#4672C6" stroke="#2F4F8A" stroke-width="0.3"/><rect x="1054.65" y="475.75" width="5.30" height="1.2" fill="#CC2A62"/><rect x="1063.25" y="338.80" width="7.90" height="105.90" fill="#F10404" stroke="#A00000" stroke-width="0.3"/><rect x="1063.25" y="444.70" width="7.90" height="31.30" fill="#4672C6" stroke="#2F4F8A" stroke-width="0.3"/><rect x="1064.55" y="475.75" width="5.30" height="1.2" fill="#CC2A62"/><rect x="1073.15" y="338.70" width="7.90" height="98.50" fill="#F10404" stroke="#A00000" stroke-width="0.3"/><rect x="1073.15" y="437.20" width="7.90" height="38.80" fill="#4672C6" stroke="#2F4F8A" stroke-width="0.3"/><rect x="1074.45" y="475.75" width="5.30" height="1.2" fill="#CC2A62"/><rect x="1083.05" y="333.00" width="7.90" height="15.80" fill="#F10404" stroke="#A00000" stroke-width="0.3"/><rect x="1083.05" y="348.80" width="7.90" height="127.20" fill="#4672C6" stroke="#2F4F8A" stroke-width="0.3"/><rect x="1084.35" y="475.75" width="5.30" height="1.2" fill="#CC2A62"/><rect x="1092.95" y="330.00" width="7.90" height="102.80" fill="#F10404" stroke="#A00000" stroke-width="0.3"/><rect x="1092.95" y="432.80" width="7.90" height="43.20" fill="#4672C6" stroke="#2F4F8A" stroke-width="0.3"/><rect x="1094.25" y="475.75" width="5.30" height="1.2" fill="#CC2A62"/><rect x="1102.85" y="329.00" width="7.90" height="95.20" fill="#F10404" stroke="#A00000" stroke-width="0.3"/><rect x="1102.85" y="424.20" width="7.90" height="51.80" fill="#4672C6" stroke="#2F4F8A" stroke-width="0.3"/><rect x="1104.15" y="475.75" width="5.30" height="1.2" fill="#CC2A62"/><rect x="1112.75" y="325.00" width="7.90" height="99.50" fill="#F10404" stroke="#A00000" stroke-width="0.3"/><rect x="1112.75" y="424.50" width="7.90" height="51.50" fill="#4672C6" stroke="#2F4F8A" stroke-width="0.3"/><rect x="1114.05" y="475.75" width="5.30" height="1.2" fill="#CC2A62"/><rect x="1122.65" y="318.30" width="7.90" height="118.20" fill="#F10404" stroke="#A00000" stroke-width="0.3"/><rect x="1122.65" y="436.50" width="7.90" height="39.50" fill="#4672C6" stroke="#2F4F8A" stroke-width="0.3"/><rect x="1123.95" y="475.75" width="5.30" height="1.2" fill="#CC2A62"/><rect x="1132.55" y="305.80" width="7.90" height="170.20" fill="#4672C6" stroke="#2F4F8A" stroke-width="0.3"/><rect x="1133.85" y="475.75" width="5.30" height="1.2" fill="#CC2A62"/><rect x="1142.45" y="296.30" width="7.90" height="90.40" fill="#F10404" stroke="#A00000" stroke-width="0.3"/><rect x="1142.45" y="386.70" width="7.90" height="89.30" fill="#4672C6" stroke="#2F4F8A" stroke-width="0.3"/><rect x="1143.75" y="475.75" width="5.30" height="1.2" fill="#CC2A62"/><rect x="1152.35" y="290.00" width="7.90" height="100.50" fill="#F10404" stroke="#A00000" stroke-width="0.3"/><rect x="1152.35" y="390.50" width="7.90" height="85.50" fill="#4672C6" stroke="#2F4F8A" stroke-width="0.3"/><rect x="1153.65" y="475.75" width="5.30" height="1.2" fill="#CC2A62"/><rect x="1162.25" y="276.70" width="7.90" height="130.30" fill="#F10404" stroke="#A00000" stroke-width="0.3"/><rect x="1162.25" y="407.00" width="7.90" height="69.00" fill="#4672C6" stroke="#2F4F8A" stroke-width="0.3"/><rect x="1163.55" y="475.75" width="5.30" height="1.2" fill="#CC2A62"/><rect x="1172.15" y="237.00" width="7.90" height="198.30" fill="#F10404" stroke="#A00000" stroke-width="0.3"/><rect x="1172.15" y="435.30" width="7.90" height="40.70" fill="#4672C6" stroke="#2F4F8A" stroke-width="0.3"/><rect x="1173.45" y="475.75" width="5.30" height="1.2" fill="#CC2A62"/><rect x="1182.05" y="377.00" width="7.90" height="44.30" fill="#F10404" stroke="#A00000" stroke-width="0.3"/><rect x="1182.05" y="421.30" width="7.90" height="54.70" fill="#4672C6" stroke="#2F4F8A" stroke-width="0.3"/><rect x="1183.35" y="475.75" width="5.30" height="1.2" fill="#CC2A62"/><rect x="1193.25" y="475.75" width="5.30" height="1.2" fill="#CC2A62"/>
<path d="M1195.90 350.30V276.70M1195.90 410.30V450.30" stroke="#000" stroke-width="1.3" stroke-dasharray="7 3.6" fill="none"/>
<path d="M1194.60 276.70H1197.20M1194.60 450.30H1197.20" stroke="#000" stroke-width="1.3" fill="none"/>
<rect x="1193.25" y="350.30" width="5.30" height="60.00" fill="none" stroke="#0000FF" stroke-width="1.35"/>
<path d="M1194.05 377.00H1197.75" stroke="#FF0000" stroke-width="1.3"/>
<path d="M1193.30 377.00H1198.50M1195.90 374.40V379.60M1194.08 375.18L1197.72 378.82M1194.08 378.82L1197.72 375.18" stroke="#00A000" stroke-width="1"/>
<circle cx="1195.90" cy="237.50" r="1.1" fill="#FF0000"/>
<path d="M1205.80 397.20V345.80M1205.80 475.50V476.00" stroke="#000" stroke-width="1.3" stroke-dasharray="7 3.6" fill="none"/>
<path d="M1204.50 345.80H1207.10M1204.50 476.00H1207.10" stroke="#000" stroke-width="1.3" fill="none"/>
<rect x="1203.15" y="397.20" width="5.30" height="78.30" fill="none" stroke="#0000FF" stroke-width="1.35"/>
<path d="M1203.95 446.00H1207.65" stroke="#FF0000" stroke-width="1.3"/>
<path d="M1203.20 432.00H1208.40M1205.80 429.40V434.60M1203.98 430.18L1207.62 433.82M1203.98 433.82L1207.62 430.18" stroke="#E00000" stroke-width="1"/>
<circle cx="1205.80" cy="278.00" r="1.1" fill="#FF0000"/>
<path d="M680.75 423.80H1213.80" stroke="#000" stroke-width="2.1" stroke-dasharray="2.1 1.917"/>
<path d="M680.75 465.80H1213.80" stroke="#E00000" stroke-width="2.1" stroke-dasharray="2.1 1.917"/>
<text x="1214.00" y="427.40" font-size="10.70" fill="#000" textLength="59.81" lengthAdjust="spacingAndGlyphs" style='font-family:"Liberation Sans",sans-serif;' >CLIM All-IVT</text>
<text x="1214.00" y="469.40" font-size="10.70" fill="#E00000" textLength="60.80" lengthAdjust="spacingAndGlyphs" style='font-family:"Liberation Sans",sans-serif;' >CLIM AR-IVT</text>
<text x="676.30" y="480.28" font-size="11.87" fill="#1a1a1a" font-weight="bold" text-anchor="end" textLength="7.79" lengthAdjust="spacingAndGlyphs" style='font-family:"Liberation Sans",sans-serif;' >0</text>
<text x="676.30" y="431.17" font-size="11.87" fill="#1a1a1a" font-weight="bold" text-anchor="end" textLength="7.79" lengthAdjust="spacingAndGlyphs" style='font-family:"Liberation Sans",sans-serif;' >5</text>
<text x="676.30" y="382.05" font-size="11.87" fill="#1a1a1a" font-weight="bold" text-anchor="end" textLength="15.59" lengthAdjust="spacingAndGlyphs" style='font-family:"Liberation Sans",sans-serif;' >10</text>
<text x="676.30" y="332.93" font-size="11.87" fill="#1a1a1a" font-weight="bold" text-anchor="end" textLength="15.59" lengthAdjust="spacingAndGlyphs" style='font-family:"Liberation Sans",sans-serif;' >15</text>
<text x="676.30" y="283.82" font-size="11.87" fill="#1a1a1a" font-weight="bold" text-anchor="end" textLength="15.59" lengthAdjust="spacingAndGlyphs" style='font-family:"Liberation Sans",sans-serif;' >20</text>
<text x="676.30" y="234.70" font-size="11.87" fill="#1a1a1a" font-weight="bold" text-anchor="end" textLength="15.59" lengthAdjust="spacingAndGlyphs" style='font-family:"Liberation Sans",sans-serif;' >25</text>
<text x="676.30" y="185.58" font-size="11.87" fill="#1a1a1a" font-weight="bold" text-anchor="end" textLength="15.59" lengthAdjust="spacingAndGlyphs" style='font-family:"Liberation Sans",sans-serif;' >30</text>
<text transform="translate(694.58 479.80) rotate(-90)" font-size="11.87" font-weight="bold" text-anchor="end" textLength="15.59" lengthAdjust="spacingAndGlyphs" fill="#1a1a1a" style='font-family:"Liberation Sans",sans-serif'>21</text>
<text transform="translate(704.48 479.80) rotate(-90)" font-size="11.87" font-weight="bold" text-anchor="end" textLength="15.59" lengthAdjust="spacingAndGlyphs" fill="#1a1a1a" style='font-family:"Liberation Sans",sans-serif'>38</text>
<text transform="translate(714.38 479.80) rotate(-90)" font-size="11.87" font-weight="bold" text-anchor="end" textLength="15.59" lengthAdjust="spacingAndGlyphs" fill="#1a1a1a" style='font-family:"Liberation Sans",sans-serif'>25</text>
<text transform="translate(724.28 479.80) rotate(-90)" font-size="11.87" font-weight="bold" text-anchor="end" textLength="15.59" lengthAdjust="spacingAndGlyphs" fill="#1a1a1a" style='font-family:"Liberation Sans",sans-serif'>48</text>
<text transform="translate(734.18 479.80) rotate(-90)" font-size="11.87" font-weight="bold" text-anchor="end" textLength="15.59" lengthAdjust="spacingAndGlyphs" fill="#1a1a1a" style='font-family:"Liberation Sans",sans-serif'>23</text>
<text transform="translate(744.08 479.80) rotate(-90)" font-size="11.87" font-weight="bold" text-anchor="end" textLength="15.59" lengthAdjust="spacingAndGlyphs" fill="#1a1a1a" style='font-family:"Liberation Sans",sans-serif'>10</text>
<text transform="translate(753.98 479.80) rotate(-90)" font-size="11.87" font-weight="bold" text-anchor="end" textLength="15.59" lengthAdjust="spacingAndGlyphs" fill="#1a1a1a" style='font-family:"Liberation Sans",sans-serif'>44</text>
<text transform="translate(763.88 479.80) rotate(-90)" font-size="11.87" font-weight="bold" text-anchor="end" textLength="15.59" lengthAdjust="spacingAndGlyphs" fill="#1a1a1a" style='font-family:"Liberation Sans",sans-serif'>32</text>
<text transform="translate(773.78 479.80) rotate(-90)" font-size="11.87" font-weight="bold" text-anchor="end" textLength="15.59" lengthAdjust="spacingAndGlyphs" fill="#1a1a1a" style='font-family:"Liberation Sans",sans-serif'>35</text>
<text transform="translate(783.68 479.80) rotate(-90)" font-size="11.87" font-weight="bold" text-anchor="end" textLength="15.59" lengthAdjust="spacingAndGlyphs" fill="#1a1a1a" style='font-family:"Liberation Sans",sans-serif'>47</text>
<text transform="translate(793.58 479.80) rotate(-90)" font-size="11.87" font-weight="bold" text-anchor="end" textLength="7.79" lengthAdjust="spacingAndGlyphs" fill="#1a1a1a" style='font-family:"Liberation Sans",sans-serif'>8</text>
<text transform="translate(803.48 479.80) rotate(-90)" font-size="11.87" font-weight="bold" text-anchor="end" textLength="7.79" lengthAdjust="spacingAndGlyphs" fill="#1a1a1a" style='font-family:"Liberation Sans",sans-serif'>5</text>
<text transform="translate(813.38 479.80) rotate(-90)" font-size="11.87" font-weight="bold" text-anchor="end" textLength="7.79" lengthAdjust="spacingAndGlyphs" fill="#1a1a1a" style='font-family:"Liberation Sans",sans-serif'>4</text>
<text transform="translate(823.28 479.80) rotate(-90)" font-size="11.87" font-weight="bold" text-anchor="end" textLength="15.59" lengthAdjust="spacingAndGlyphs" fill="#1a1a1a" style='font-family:"Liberation Sans",sans-serif'>13</text>
<text transform="translate(833.18 479.80) rotate(-90)" font-size="11.87" font-weight="bold" text-anchor="end" textLength="15.59" lengthAdjust="spacingAndGlyphs" fill="#1a1a1a" style='font-family:"Liberation Sans",sans-serif'>11</text>
<text transform="translate(843.08 479.80) rotate(-90)" font-size="11.87" font-weight="bold" text-anchor="end" textLength="15.59" lengthAdjust="spacingAndGlyphs" fill="#1a1a1a" style='font-family:"Liberation Sans",sans-serif'>27</text>
<text transform="translate(852.98 479.80) rotate(-90)" font-size="11.87" font-weight="bold" text-anchor="end" textLength="15.59" lengthAdjust="spacingAndGlyphs" fill="#1a1a1a" style='font-family:"Liberation Sans",sans-serif'>26</text>
<text transform="translate(862.88 479.80) rotate(-90)" font-size="11.87" font-weight="bold" text-anchor="end" textLength="15.59" lengthAdjust="spacingAndGlyphs" fill="#1a1a1a" style='font-family:"Liberation Sans",sans-serif'>31</text>
<text transform="translate(872.78 479.80) rotate(-90)" font-size="11.87" font-weight="bold" text-anchor="end" textLength="15.59" lengthAdjust="spacingAndGlyphs" fill="#1a1a1a" style='font-family:"Liberation Sans",sans-serif'>20</text>
<text transform="translate(882.68 479.80) rotate(-90)" font-size="11.87" font-weight="bold" text-anchor="end" textLength="15.59" lengthAdjust="spacingAndGlyphs" fill="#1a1a1a" style='font-family:"Liberation Sans",sans-serif'>42</text>
<text transform="translate(892.58 479.80) rotate(-90)" font-size="11.87" font-weight="bold" text-anchor="end" textLength="7.79" lengthAdjust="spacingAndGlyphs" fill="#1a1a1a" style='font-family:"Liberation Sans",sans-serif'>7</text>
<text transform="translate(902.48 479.80) rotate(-90)" font-size="11.87" font-weight="bold" text-anchor="end" textLength="15.59" lengthAdjust="spacingAndGlyphs" fill="#1a1a1a" style='font-family:"Liberation Sans",sans-serif'>14</text>
<text transform="translate(912.38 479.80) rotate(-90)" font-size="11.87" font-weight="bold" text-anchor="end" textLength="15.59" lengthAdjust="spacingAndGlyphs" fill="#1a1a1a" style='font-family:"Liberation Sans",sans-serif'>19</text>
<text transform="translate(922.28 479.80) rotate(-90)" font-size="11.87" font-weight="bold" text-anchor="end" textLength="15.59" lengthAdjust="spacingAndGlyphs" fill="#1a1a1a" style='font-family:"Liberation Sans",sans-serif'>40</text>
<text transform="translate(932.18 479.80) rotate(-90)" font-size="11.87" font-weight="bold" text-anchor="end" textLength="15.59" lengthAdjust="spacingAndGlyphs" fill="#1a1a1a" style='font-family:"Liberation Sans",sans-serif'>29</text>
<text transform="translate(942.08 479.80) rotate(-90)" font-size="11.87" font-weight="bold" text-anchor="end" textLength="15.59" lengthAdjust="spacingAndGlyphs" fill="#1a1a1a" style='font-family:"Liberation Sans",sans-serif'>50</text>
<text transform="translate(951.98 479.80) rotate(-90)" font-size="11.87" font-weight="bold" text-anchor="end" textLength="15.59" lengthAdjust="spacingAndGlyphs" fill="#1a1a1a" style='font-family:"Liberation Sans",sans-serif'>17</text>
<text transform="translate(961.88 479.80) rotate(-90)" font-size="11.87" font-weight="bold" text-anchor="end" textLength="15.59" lengthAdjust="spacingAndGlyphs" fill="#1a1a1a" style='font-family:"Liberation Sans",sans-serif'>24</text>
<text transform="translate(971.78 479.80) rotate(-90)" font-size="11.87" font-weight="bold" text-anchor="end" textLength="15.59" lengthAdjust="spacingAndGlyphs" fill="#1a1a1a" style='font-family:"Liberation Sans",sans-serif'>37</text>
<text transform="translate(981.68 479.80) rotate(-90)" font-size="11.87" font-weight="bold" text-anchor="end" textLength="15.59" lengthAdjust="spacingAndGlyphs" fill="#1a1a1a" style='font-family:"Liberation Sans",sans-serif'>28</text>
<text transform="translate(991.58 479.80) rotate(-90)" font-size="11.87" font-weight="bold" text-anchor="end" textLength="15.59" lengthAdjust="spacingAndGlyphs" fill="#1a1a1a" style='font-family:"Liberation Sans",sans-serif'>22</text>
<text transform="translate(1001.48 479.80) rotate(-90)" font-size="11.87" font-weight="bold" text-anchor="end" textLength="15.59" lengthAdjust="spacingAndGlyphs" fill="#1a1a1a" style='font-family:"Liberation Sans",sans-serif'>16</text>
<text transform="translate(1011.38 479.80) rotate(-90)" font-size="11.87" font-weight="bold" text-anchor="end" textLength="15.59" lengthAdjust="spacingAndGlyphs" fill="#1a1a1a" style='font-family:"Liberation Sans",sans-serif'>12</text>
<text transform="translate(1021.28 479.80) rotate(-90)" font-size="11.87" font-weight="bold" text-anchor="end" textLength="15.59" lengthAdjust="spacingAndGlyphs" fill="#1a1a1a" style='font-family:"Liberation Sans",sans-serif'>18</text>
<text transform="translate(1031.18 479.80) rotate(-90)" font-size="11.87" font-weight="bold" text-anchor="end" textLength="15.59" lengthAdjust="spacingAndGlyphs" fill="#1a1a1a" style='font-family:"Liberation Sans",sans-serif'>36</text>
<text transform="translate(1041.08 479.80) rotate(-90)" font-size="11.87" font-weight="bold" text-anchor="end" textLength="15.59" lengthAdjust="spacingAndGlyphs" fill="#1a1a1a" style='font-family:"Liberation Sans",sans-serif'>41</text>
<text transform="translate(1050.98 479.80) rotate(-90)" font-size="11.87" font-weight="bold" text-anchor="end" textLength="7.79" lengthAdjust="spacingAndGlyphs" fill="#1a1a1a" style='font-family:"Liberation Sans",sans-serif'>2</text>
<text transform="translate(1060.88 479.80) rotate(-90)" font-size="11.87" font-weight="bold" text-anchor="end" textLength="7.79" lengthAdjust="spacingAndGlyphs" fill="#1a1a1a" style='font-family:"Liberation Sans",sans-serif'>3</text>
<text transform="translate(1070.78 479.80) rotate(-90)" font-size="11.87" font-weight="bold" text-anchor="end" textLength="7.79" lengthAdjust="spacingAndGlyphs" fill="#1a1a1a" style='font-family:"Liberation Sans",sans-serif'>6</text>
<text transform="translate(1080.68 479.80) rotate(-90)" font-size="11.87" font-weight="bold" text-anchor="end" textLength="15.59" lengthAdjust="spacingAndGlyphs" fill="#1a1a1a" style='font-family:"Liberation Sans",sans-serif'>30</text>
<text transform="translate(1090.58 479.80) rotate(-90)" font-size="11.87" font-weight="bold" text-anchor="end" textLength="15.59" lengthAdjust="spacingAndGlyphs" fill="#1a1a1a" style='font-family:"Liberation Sans",sans-serif'>43</text>
<text transform="translate(1100.48 479.80) rotate(-90)" font-size="11.87" font-weight="bold" text-anchor="end" textLength="15.59" lengthAdjust="spacingAndGlyphs" fill="#1a1a1a" style='font-family:"Liberation Sans",sans-serif'>49</text>
<text transform="translate(1110.38 479.80) rotate(-90)" font-size="11.87" font-weight="bold" text-anchor="end" textLength="7.79" lengthAdjust="spacingAndGlyphs" fill="#1a1a1a" style='font-family:"Liberation Sans",sans-serif'>1</text>
<text transform="translate(1120.28 479.80) rotate(-90)" font-size="11.87" font-weight="bold" text-anchor="end" textLength="15.59" lengthAdjust="spacingAndGlyphs" fill="#1a1a1a" style='font-family:"Liberation Sans",sans-serif'>34</text>
<text transform="translate(1130.18 479.80) rotate(-90)" font-size="11.87" font-weight="bold" text-anchor="end" textLength="15.59" lengthAdjust="spacingAndGlyphs" fill="#1a1a1a" style='font-family:"Liberation Sans",sans-serif'>46</text>
<text transform="translate(1140.08 479.80) rotate(-90)" font-size="11.87" font-weight="bold" text-anchor="end" textLength="15.59" lengthAdjust="spacingAndGlyphs" fill="#1a1a1a" style='font-family:"Liberation Sans",sans-serif'>15</text>
<text transform="translate(1149.98 479.80) rotate(-90)" font-size="11.87" font-weight="bold" text-anchor="end" textLength="15.59" lengthAdjust="spacingAndGlyphs" fill="#1a1a1a" style='font-family:"Liberation Sans",sans-serif'>39</text>
<text transform="translate(1159.88 479.80) rotate(-90)" font-size="11.87" font-weight="bold" text-anchor="end" textLength="15.59" lengthAdjust="spacingAndGlyphs" fill="#1a1a1a" style='font-family:"Liberation Sans",sans-serif'>33</text>
<text transform="translate(1169.78 479.80) rotate(-90)" font-size="11.87" font-weight="bold" text-anchor="end" textLength="15.59" lengthAdjust="spacingAndGlyphs" fill="#1a1a1a" style='font-family:"Liberation Sans",sans-serif'>45</text>
<text transform="translate(1179.68 479.80) rotate(-90)" font-size="11.87" font-weight="bold" text-anchor="end" textLength="7.79" lengthAdjust="spacingAndGlyphs" fill="#1a1a1a" style='font-family:"Liberation Sans",sans-serif'>9</text>
<text transform="translate(1189.58 479.80) rotate(-90)" font-size="11.87" font-weight="bold" text-anchor="end" textLength="18.80" lengthAdjust="spacingAndGlyphs" fill="#1a1a1a" style='font-family:"Liberation Sans",sans-serif'>EM</text>
<text transform="translate(1199.48 479.80) rotate(-90)" font-size="11.87" font-weight="bold" text-anchor="end" textLength="40.72" lengthAdjust="spacingAndGlyphs" fill="#1a1a1a" style='font-family:"Liberation Sans",sans-serif'>All IVT</text>
<text transform="translate(1209.38 479.80) rotate(-90)" font-size="11.87" font-weight="bold" text-anchor="end" textLength="41.67" lengthAdjust="spacingAndGlyphs" fill="#1a1a1a" style='font-family:"Liberation Sans",sans-serif'>AR IVT</text>
<text x="640.10" y="174.90" font-size="13.46" fill="#000" font-weight="bold" textLength="614.84" lengthAdjust="spacingAndGlyphs" style='font-family:"Liberation Sans",sans-serif;' >ECMWF Week3 (10/22-10/28) IVT Accum. at San Francisco, CA, Initialized: 10/07/2021</text>
<text x="850.00" y="536.00" font-size="13.46" fill="#1a1a1a" font-weight="bold" textLength="194.51" lengthAdjust="spacingAndGlyphs" style='font-family:"Liberation Sans",sans-serif;' >Ensemble Member Number</text>
<text transform="translate(656.30 441.50) rotate(-90)" font-size="12.72" font-weight="bold" fill="#1a1a1a" textLength="162.00" lengthAdjust="spacingAndGlyphs" style='font-family:"Liberation Sans",sans-serif'>Time-integrated IVT (10</text>
<text transform="translate(650.10 278.90) rotate(-90)" font-size="9.54" font-weight="bold" fill="#1a1a1a" textLength="5.90" lengthAdjust="spacingAndGlyphs" style='font-family:"Liberation Sans",sans-serif'>7</text>
<text transform="translate(656.30 266.70) rotate(-90)" font-size="12.72" font-weight="bold" fill="#1a1a1a" textLength="31.60" lengthAdjust="spacingAndGlyphs" style='font-family:"Liberation Sans",sans-serif'>kg m</text>
<text transform="translate(650.40 233.50) rotate(-90)" font-size="9.54" font-weight="bold" fill="#1a1a1a" textLength="8.60" lengthAdjust="spacingAndGlyphs" style='font-family:"Liberation Sans",sans-serif'>-1</text>
<text transform="translate(656.30 223.50) rotate(-90)" font-size="12.72" font-weight="bold" fill="#1a1a1a" textLength="5.50" lengthAdjust="spacingAndGlyphs" style='font-family:"Liberation Sans",sans-serif'>)</text>
<text x="316.29" y="577.60" font-size="19.90" fill="#000" textLength="95.62" lengthAdjust="spacingAndGlyphs" style='font-family:"Liberation Sans",sans-serif;' stroke="#000" stroke-width="0.6">Ensemble</text>
<text x="416.16" y="577.60" font-size="19.90" fill="#000" textLength="54.50" lengthAdjust="spacingAndGlyphs" style='font-family:"Liberation Sans",sans-serif;' stroke="#000" stroke-width="0.6">Mean</text>
<text x="474.71" y="577.60" font-size="19.90" fill="#000" textLength="29.73" lengthAdjust="spacingAndGlyphs" style='font-family:"Liberation Sans",sans-serif;' stroke="#000" stroke-width="0.6">AR</text>
<text x="507.16" y="577.60" font-size="19.90" fill="#000" textLength="54.39" lengthAdjust="spacingAndGlyphs" style='font-family:"Liberation Sans",sans-serif;' stroke="#000" stroke-width="0.6">T-IVT</text>
<text x="564.33" y="577.60" font-size="19.90" fill="#000" textLength="17.97" lengthAdjust="spacingAndGlyphs" style='font-family:"Liberation Sans",sans-serif;' stroke="#000" stroke-width="0.6">at</text>
<text x="588.17" y="577.60" font-size="19.90" fill="#000" textLength="38.27" lengthAdjust="spacingAndGlyphs" style='font-family:"Liberation Sans",sans-serif;' stroke="#000" stroke-width="0.6">San</text>
<text x="629.85" y="577.60" font-size="19.90" fill="#000" textLength="94.92" lengthAdjust="spacingAndGlyphs" style='font-family:"Liberation Sans",sans-serif;' stroke="#000" stroke-width="0.6">Francisco</text>
<text x="727.77" y="577.60" font-size="19.90" fill="#000" textLength="19.50" lengthAdjust="spacingAndGlyphs" style='font-family:"Liberation Sans",sans-serif;' stroke="#000" stroke-width="0.6">in</text>
<text x="750.90" y="577.60" font-size="19.90" fill="#000" textLength="32.28" lengthAdjust="spacingAndGlyphs" style='font-family:"Liberation Sans",sans-serif;' stroke="#000" stroke-width="0.6">the</text>
<text x="786.96" y="577.60" font-size="19.90" fill="#000" textLength="52.76" lengthAdjust="spacingAndGlyphs" style='font-family:"Liberation Sans",sans-serif;' stroke="#000" stroke-width="0.6">Week</text>
<text x="843.87" y="577.60" font-size="19.90" fill="#000" textLength="19.55" lengthAdjust="spacingAndGlyphs" style='font-family:"Liberation Sans",sans-serif;' stroke="#000" stroke-width="0.6">of</text>
<text x="867.55" y="577.60" font-size="19.90" fill="#000" textLength="36.17" lengthAdjust="spacingAndGlyphs" style='font-family:"Liberation Sans",sans-serif;' stroke="#000" stroke-width="0.6">Oct</text>
<text x="907.51" y="577.60" font-size="19.90" fill="#000" textLength="57.82" lengthAdjust="spacingAndGlyphs" style='font-family:"Liberation Sans",sans-serif;' stroke="#000" stroke-width="0.6">22-28</text>
<rect x="316" y="580" width="648" height="1" fill="#000"/>
<rect x="238.5" y="601.8" width="4.8" height="5.1" fill="#000"/>
<rect x="242.6" y="635.9" width="4.8" height="5.1" fill="#000"/>
<text x="253.43" y="610.50" font-size="20.60" fill="#111" textLength="16.88" lengthAdjust="spacingAndGlyphs" style='font-family:"Liberation Sans",sans-serif;' stroke="#fff" stroke-width="0.25">In</text>
<text x="275.74" y="610.50" font-size="20.60" fill="#111" textLength="56.23" lengthAdjust="spacingAndGlyphs" style='font-family:"Liberation Sans",sans-serif;' stroke="#fff" stroke-width="0.25">NCEP</text>
<text x="337.45" y="610.50" font-size="20.60" fill="#111" textLength="30.78" lengthAdjust="spacingAndGlyphs" style='font-family:"Liberation Sans",sans-serif;' stroke="#fff" stroke-width="0.25">(left</text>
<text x="375.32" y="610.50" font-size="20.60" fill="#111" textLength="60.59" lengthAdjust="spacingAndGlyphs" style='font-family:"Liberation Sans",sans-serif;' stroke="#fff" stroke-width="0.25">panel):</text>
<text x="443.66" y="610.50" font-size="20.60" fill="#111" textLength="74.85" lengthAdjust="spacingAndGlyphs" style='font-family:"Liberation Sans",sans-serif;' stroke="#fff" stroke-width="0.25">~4.0x10</text>
<text x="533.06" y="610.50" font-size="20.60" fill="#111" textLength="24.11" lengthAdjust="spacingAndGlyphs" style='font-family:"Liberation Sans",sans-serif;' stroke="#fff" stroke-width="0.25">kg</text>
<text x="561.41" y="610.50" font-size="20.60" fill="#111" textLength="17.48" lengthAdjust="spacingAndGlyphs" style='font-family:"Liberation Sans",sans-serif;' stroke="#fff" stroke-width="0.25">m</text>
<text x="591.64" y="610.50" font-size="20.60" fill="#111" textLength="7.93" lengthAdjust="spacingAndGlyphs" style='font-family:"Liberation Sans",sans-serif;' stroke="#fff" stroke-width="0.25">,</text>
<text x="604.18" y="610.50" font-size="20.60" fill="#111" textLength="54.06" lengthAdjust="spacingAndGlyphs" style='font-family:"Liberation Sans",sans-serif;' stroke="#fff" stroke-width="0.25">nearly</text>
<text x="664.39" y="610.50" font-size="20.60" fill="#111" textLength="54.37" lengthAdjust="spacingAndGlyphs" style='font-family:"Liberation Sans",sans-serif;' stroke="#fff" stroke-width="0.25">300%</text>
<text x="725.59" y="610.50" font-size="20.60" fill="#111" textLength="56.65" lengthAdjust="spacingAndGlyphs" style='font-family:"Liberation Sans",sans-serif;' stroke="#fff" stroke-width="0.25">higher</text>
<text x="788.60" y="610.50" font-size="20.60" fill="#111" textLength="38.90" lengthAdjust="spacingAndGlyphs" style='font-family:"Liberation Sans",sans-serif;' stroke="#fff" stroke-width="0.25">than</text>
<text x="834.30" y="610.50" font-size="20.60" fill="#111" textLength="27.90" lengthAdjust="spacingAndGlyphs" style='font-family:"Liberation Sans",sans-serif;' stroke="#fff" stroke-width="0.25">the</text>
<text x="868.17" y="610.50" font-size="20.60" fill="#111" textLength="58.57" lengthAdjust="spacingAndGlyphs" style='font-family:"Liberation Sans",sans-serif;' stroke="#fff" stroke-width="0.25">model</text>
<text x="931.82" y="610.50" font-size="20.60" fill="#111" textLength="109.88" lengthAdjust="spacingAndGlyphs" style='font-family:"Liberation Sans",sans-serif;' stroke="#fff" stroke-width="0.25">climatology.</text>
<text x="518.49" y="603.90" font-size="12.40" fill="#111" textLength="7.71" lengthAdjust="spacingAndGlyphs" style='font-family:"Liberation Sans",sans-serif;' stroke="#fff" stroke-width="0.25">7</text>
<text x="578.27" y="603.90" font-size="12.40" fill="#111" textLength="12.62" lengthAdjust="spacingAndGlyphs" style='font-family:"Liberation Sans",sans-serif;' stroke="#fff" stroke-width="0.25">-1</text>
<text x="257.62" y="644.90" font-size="20.60" fill="#111" textLength="17.01" lengthAdjust="spacingAndGlyphs" style='font-family:"Liberation Sans",sans-serif;' stroke="#fff" stroke-width="0.25">In</text>
<text x="280.06" y="644.90" font-size="20.60" fill="#111" textLength="75.64" lengthAdjust="spacingAndGlyphs" style='font-family:"Liberation Sans",sans-serif;' stroke="#fff" stroke-width="0.25">ECMWF</text>
<text x="361.36" y="644.90" font-size="20.60" fill="#111" textLength="45.69" lengthAdjust="spacingAndGlyphs" style='font-family:"Liberation Sans",sans-serif;' stroke="#fff" stroke-width="0.25">(right</text>
<text x="413.52" y="644.90" font-size="20.60" fill="#111" textLength="60.80" lengthAdjust="spacingAndGlyphs" style='font-family:"Liberation Sans",sans-serif;' stroke="#fff" stroke-width="0.25">panel):</text>
<text x="481.45" y="644.90" font-size="20.60" fill="#111" textLength="75.57" lengthAdjust="spacingAndGlyphs" style='font-family:"Liberation Sans",sans-serif;' stroke="#fff" stroke-width="0.25">~4.5x10</text>
<text x="570.46" y="644.90" font-size="20.60" fill="#111" textLength="24.11" lengthAdjust="spacingAndGlyphs" style='font-family:"Liberation Sans",sans-serif;' stroke="#fff" stroke-width="0.25">kg</text>
<text x="599.44" y="644.90" font-size="20.60" fill="#111" textLength="18.31" lengthAdjust="spacingAndGlyphs" style='font-family:"Liberation Sans",sans-serif;' stroke="#fff" stroke-width="0.25">m</text>
<text x="629.94" y="644.90" font-size="20.60" fill="#111" textLength="7.93" lengthAdjust="spacingAndGlyphs" style='font-family:"Liberation Sans",sans-serif;' stroke="#fff" stroke-width="0.25">,</text>
<text x="643.61" y="644.90" font-size="20.60" fill="#111" textLength="11.58" lengthAdjust="spacingAndGlyphs" style='font-family:"Liberation Sans",sans-serif;' stroke="#fff" stroke-width="0.25">~</text>
<text x="662.00" y="644.90" font-size="20.60" fill="#111" textLength="53.54" lengthAdjust="spacingAndGlyphs" style='font-family:"Liberation Sans",sans-serif;' stroke="#fff" stroke-width="0.25">350%</text>
<text x="721.29" y="644.90" font-size="20.60" fill="#111" textLength="56.65" lengthAdjust="spacingAndGlyphs" style='font-family:"Liberation Sans",sans-serif;' stroke="#fff" stroke-width="0.25">higher</text>
<text x="785.70" y="644.90" font-size="20.60" fill="#111" textLength="38.90" lengthAdjust="spacingAndGlyphs" style='font-family:"Liberation Sans",sans-serif;' stroke="#fff" stroke-width="0.25">than</text>
<text x="831.40" y="644.90" font-size="20.60" fill="#111" textLength="28.00" lengthAdjust="spacingAndGlyphs" style='font-family:"Liberation Sans",sans-serif;' stroke="#fff" stroke-width="0.25">the</text>
<text x="865.18" y="644.90" font-size="20.60" fill="#111" textLength="58.36" lengthAdjust="spacingAndGlyphs" style='font-family:"Liberation Sans",sans-serif;' stroke="#fff" stroke-width="0.25">model</text>
<text x="929.02" y="644.90" font-size="20.60" fill="#111" textLength="109.58" lengthAdjust="spacingAndGlyphs" style='font-family:"Liberation Sans",sans-serif;' stroke="#fff" stroke-width="0.25">climatology.</text>
<text x="557.51" y="638.30" font-size="12.40" fill="#111" textLength="8.56" lengthAdjust="spacingAndGlyphs" style='font-family:"Liberation Sans",sans-serif;' stroke="#fff" stroke-width="0.25">7</text>
<text x="617.07" y="638.30" font-size="12.40" fill="#111" textLength="12.62" lengthAdjust="spacingAndGlyphs" style='font-family:"Liberation Sans",sans-serif;' stroke="#fff" stroke-width="0.25">-1</text>
<rect x="0" y="662" width="1280" height="29" fill="#2677A3"/>
<rect x="0" y="691" width="1280" height="29" fill="#F0821E"/>
<path d="M9.900000000000002 690.7A28.7 28.7 0 0 1 67.3 690.7H56.3A17.7 17.7 0 0 0 20.900000000000002 690.7Z" fill="#fff"/>
<clipPath id="fcl"><path d="M9.900000000000002 690.7A28.7 28.7 0 0 0 67.3 690.7H56.3A17.7 17.7 0 0 1 20.900000000000002 690.7Z"/></clipPath>
<path d="M0 693.00h80M0 697.28h80M0 701.56h80M0 705.84h80M0 710.12h80M0 714.40h80M0 718.68h80" stroke="#fff" stroke-width="2.5" clip-path="url(#fcl)"/>
<path d="M38.7 676.5C40.6 681 47.4 687.5 47.4 695A8.85 8.85 0 0 1 29.7 695C29.7 687.5 36.8 681 38.7 676.5Z" fill="#fff"/>
<path d="M42.6 683.4L34.4 694.0L42.9 693.4L36.6 703.6" stroke="#F0821E" stroke-width="2.9" fill="none" stroke-linejoin="miter"/>
<text x="73.90" y="686.20" font-size="22.60" fill="#fff" font-weight="bold" textLength="69.60" lengthAdjust="spacingAndGlyphs" style='font-family:"Liberation Sans",sans-serif;' stroke="#fff" stroke-width="0.9">CW3E</text>
<text x="74.00" y="699.80" font-size="9.30" fill="#fff" textLength="131.80" lengthAdjust="spacingAndGlyphs" style='font-family:"Liberation Sans",sans-serif;' stroke="#fff" stroke-width="0.35">Center for Western Weather</text>
<text x="74.00" y="711.30" font-size="9.30" fill="#fff" textLength="96.30" lengthAdjust="spacingAndGlyphs" style='font-family:"Liberation Sans",sans-serif;' stroke="#fff" stroke-width="0.35">and Water Extremes</text>
</svg></body></html>
